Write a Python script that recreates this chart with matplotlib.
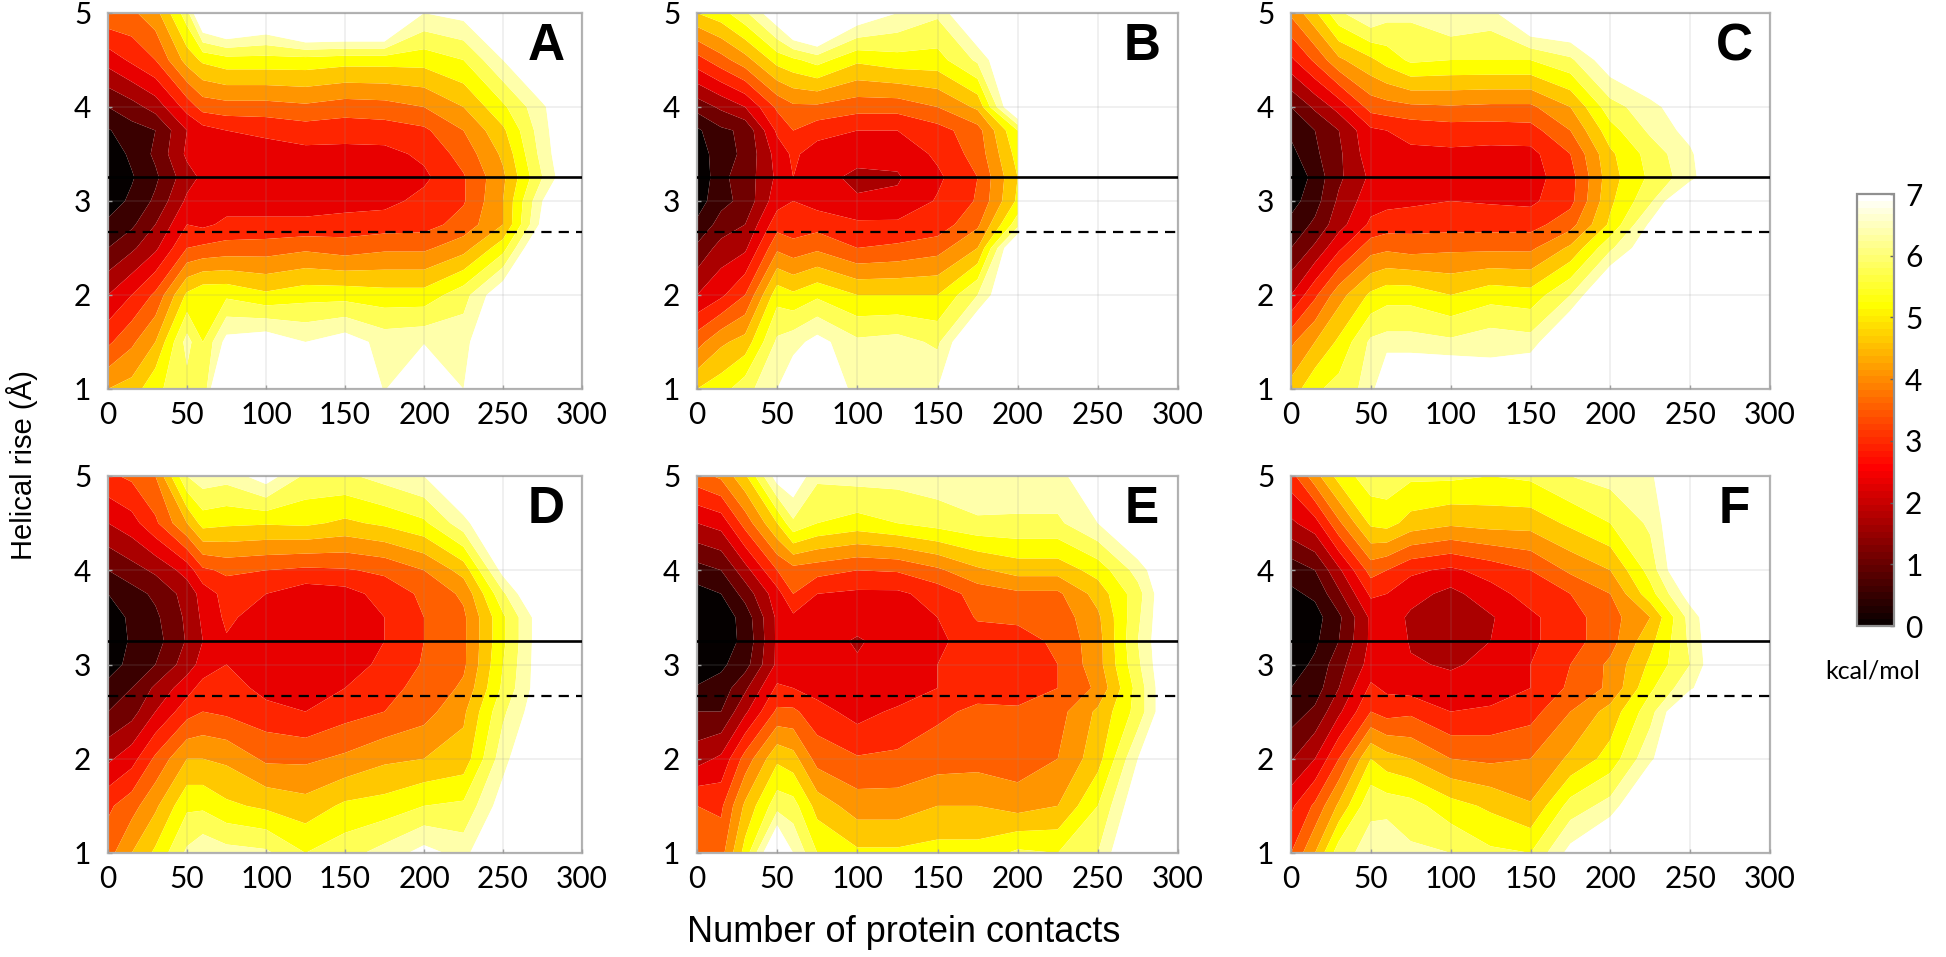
import numpy as np
import matplotlib
matplotlib.use("Agg")
import matplotlib.pyplot as plt
from matplotlib.colors import Normalize
from matplotlib.cm import ScalarMappable

W, H = 1946, 957
contacts = [0, 15, 30, 50, 60, 75, 100, 125, 150, 175, 200, 225, 250, 275, 300]
rise = [1, 1.5, 2, 2.5, 2.75, 3, 3.25, 3.5, 3.75, 4, 4.5, 5]
n = float('nan')

panel_a = [
 [4.0,4.2,4.9,5.3,5.0,8,7,7,8,5.9,8,6,7,7,7],
 [2.9,3.4,4.0,5.7,5.0,6.2,6.4,6,6.3,5.8,5.9,5.8,7,7,7],
 [2.0,2.5,3.1,4.6,4.9,4.9,4.6,4.8,4.8,4.7,4.7,5.3,6.5,7,7],
 [1.0,1.4,1.9,3.0,3.1,3.2,3.25,3.4,3.25,3.4,3.4,3.8,4.8,7,7],
 [.6,.9,1.5,2.5,2.4,2.6,2.6,2.6,2.7,2.75,2.8,3.2,4.0,6.2,7],
 [.25,.6,1.1,2.1,2.2,2.3,2.3,2.3,2.3,2.35,2.65,2.95,4.0,6,7],
 [0,.45,.9,1.8,2.1,2.2,2.2,2.2,2.2,2.2,2.4,2.95,3.9,5.5,7],
 [.2,.6,1.1,2.1,2.2,2.25,2.3,2.35,2.35,2.35,2.6,3.2,4.1,5.7,7],
 [.45,.8,1.0,2.0,2.3,2.5,2.6,2.75,2.7,2.75,2.9,3.5,4.4,5.8,7],
 [1,1.3,1.7,2.7,3.2,3.3,3.3,3.4,3.25,3.3,3.5,4,4.9,5.9,7],
 [2.2,2.6,3,4.2,4.6,4.8,4.8,4.8,4.7,4.7,4.7,5,6,7,7],
 [3.4,3.4,3.8,5.3,7,7.5,7,8,8,8,6,6.2,7,7,7],
]
panel_b = [
 [4.5,4.8,5.3,6.0,6.5,7,5.7,5.8,6,7,7,n,n,n,n],
 [3.3,3.9,4.2,5.6,5.8,6.2,5.6,5.7,5.4,7,7,n,n,n,n],
 [2.0,2.4,3,4.8,4.6,4.9,4.5,4.5,4.5,5.5,7,n,n,n,n],
 [1.1,1.7,1.9,3.4,3.2,3.4,3.0,3.1,3.3,4,7,n,n,n,n],
 [.6,1.2,1.5,2.8,2.7,2.8,2.6,2.6,2.7,3.4,5.3,n,n,n,n],
 [.25,.85,1.15,2.3,2.5,2.3,2.05,2.1,2.55,3.05,4.6,n,n,n,n],
 [0,.9,1.2,2.1,2.5,2.15,1.9,1.95,2.4,3.0,4.5,n,n,n,n],
 [.2,.8,1.1,2.2,2.6,2.25,2.15,2.15,2.6,3.2,4.7,n,n,n,n],
 [.4,.9,1.1,2.6,3.0,2.7,2.5,2.5,2.8,3.3,5.0,n,n,n,n],
 [1.2,1.6,2.0,3.1,3.4,3.4,3.2,3.2,3.5,4.1,7,n,n,n,n],
 [2.8,3.3,3.8,4.7,4.9,5.2,4.6,4.8,4.8,5.6,7,n,n,n,n],
 [4.5,4.8,5.4,6.5,7.5,8,6.5,6,5.6,7,7,n,n,n,n],
]
panel_c = [
 [4.2,4.9,5.2,5.7,7,7,7,6.4,7,7,7,7,7,7,7],
 [3.4,4,4.6,5.6,5.7,5.7,5.6,5.8,5.7,7,7,7,7,7,7],
 [2,2.9,3.8,4.6,4.8,4.8,4.5,4.8,4.7,5.5,7,7,7,7,7],
 [1,1.6,2.4,3.3,3.4,3.3,3.4,3.4,3.4,4.1,5.4,6.5,7,7,7],
 [.65,1.1,1.8,2.6,2.75,2.8,2.8,2.8,2.8,3.3,4.6,6.1,7,7,7],
 [.3,.8,1.6,2.3,2.35,2.4,2.5,2.45,2.4,2.85,4.4,5.4,7,7,7],
 [0,.7,1.4,2.1,2.2,2.2,2.2,2.2,2.3,2.8,4.3,5.1,5.8,7,7],
 [.35,.9,1.4,2.3,2.35,2.4,2.4,2.35,2.35,3.0,4.4,5.2,5.9,7,7],
 [.6,1,1.5,2.4,2.5,2.65,2.75,2.75,2.8,3.5,4.8,5.6,6.2,7,7],
 [1,1.6,2.2,3.2,3.3,3.4,3.45,3.4,3.4,4,5.3,5.8,6.5,7,7],
 [2.4,3.1,3.9,4.4,4.7,5.1,5,5,5,5.4,6.4,7,7,7,7],
 [3.6,4.4,5.4,6,5.7,5.6,6,5.8,7,7,7,7,7,7,7],
]
panel_d = [
 [3.3,4.0,4.6,5.6,5.9,5.7,5.6,5.0,5.3,5.7,6.2,5.8,7,7,7],
 [2.9,3.3,3.9,4.9,4.9,4.6,4.4,4.2,4.6,4.7,5.0,5.1,6.3,7,7],
 [1.9,2.3,3.1,4.0,4.0,3.9,3.4,3.4,3.6,3.9,4.0,4.2,5.8,7,7],
 [1,1.3,2.0,2.8,3.0,2.9,2.7,2.5,2.8,3.0,3.3,3.9,5.4,6.5,7],
 [.7,1.0,1.6,2.3,2.7,2.8,2.3,2.3,2.5,2.9,3.1,3.6,5.1,6.4,7],
 [.2,.7,1.0,1.75,2.2,2.5,2.25,2.15,2.3,2.6,3.05,3.4,5,6.4,7],
 [0,.6,.8,1.55,2.0,2.45,2.2,2.1,2.2,2.5,3.0,3.4,4.9,6.4,7],
 [.1,.65,.9,1.6,2.1,2.6,2.25,2.15,2.2,2.5,3,3.4,4.9,6.4,7],
 [.5,.8,1.1,1.7,2.2,2.7,2.5,2.2,2.3,2.7,3.1,3.6,5.4,7,7],
 [1,1.3,1.6,2.2,2.9,3.1,3.0,2.9,2.95,3.1,3.5,4.2,6.2,7,7],
 [2,2.3,2.9,4.0,4.7,4.6,4.55,4.6,4.4,4.6,4.9,5.8,7,7,7],
 [2.9,3.1,3.5,5.5,5.8,5.7,6.3,5.4,5.4,5.7,6,7,7,7,7],
]
panel_e = [
 [3.4,3.3,4.7,7,6,5,4.6,4.6,4.7,4.7,5.1,5.0,5.5,7,7],
 [3.0,2.9,4.1,5.3,5.2,4.3,3.75,3.75,4.0,4.0,3.8,4.0,5,6.5,7],
 [1.8,2.1,3.2,4.4,4.2,3.3,3.05,3.1,3.25,3.3,3.2,3.5,4.3,6,7],
 [1,1,1.9,3.1,3.1,2.7,2.3,2.6,2.9,3.1,3.05,3.3,4.1,5.2,7],
 [.55,.7,1.4,2.6,2.5,2.3,2.1,2.15,2.5,2.8,2.85,3,3.6,5.2,7],
 [.15,.4,.8,2.1,2.2,2.2,2.05,2.2,2.5,2.75,2.8,3,3.8,5.4,7],
 [0,.3,.6,2.1,2.2,2.2,1.95,2.2,2.4,2.75,2.8,3.1,3.8,5.5,7],
 [0,.2,.7,2.1,2.4,2.2,2.2,2.2,2.5,3.05,3.1,3.2,3.9,5.4,7],
 [.3,.5,1.2,2.3,3,2.5,2.4,2.4,2.7,3.2,3.4,3.4,4.2,5.3,7],
 [.8,1,1.8,3,3.3,3.2,3.0,3.05,3.4,3.9,4.2,4.2,4.7,5.7,7],
 [2,2.2,3.2,4.5,5.4,5,4.8,5,5.2,5.4,5.4,5.4,6,7,7],
 [3.3,3.6,4.4,6.3,6.5,5.6,5.7,5.7,5.8,6,5.9,5.9,6.3,7,7],
]
panel_f = [
 [3,4,5.3,5.7,6,5.6,5.5,5.1,5,6.2,7,7,7,7,7],
 [2.4,3.1,4.1,5.4,5.3,5.2,4.7,4.4,4.05,5.2,5.7,7,7,7,7],
 [1.45,2,3,4.5,4.2,4,3.5,3.4,3.5,4.1,4.7,5.9,7,7,7],
 [.75,1.1,1.9,3,2.8,2.9,2.5,2.6,2.8,3.5,4.2,5.3,7,7,7],
 [.5,.75,1.5,2.6,2.4,2.3,2.15,2.2,2.5,3.1,3.6,4.9,5.9,7,7],
 [.25,.6,1.3,2.2,2.4,2.05,1.95,2.1,2.5,3,3.6,4.6,5.5,7,7],
 [0,.4,1,2.1,2.4,1.95,1.6,2,2.4,2.8,3.3,4.35,5.6,7,7],
 [0,.3,.9,2.1,2.3,1.9,1.6,1.95,2.4,2.8,3.3,4.0,5.7,7,7],
 [.4,.6,1.4,2.6,2.5,2.2,1.85,2.3,2.7,3,3.5,4.8,6.3,7,7],
 [.7,1,1.9,3.2,3,2.6,2.4,2.7,3,3.6,4,5.2,7,7,7],
 [1.9,2.3,3.4,4.6,4.7,4.3,4.1,4.2,4.2,4.6,5,5.6,7,7,7],
 [2.8,3.8,4.7,5.3,5.3,5.1,5.1,5,5.1,5.5,5.7,5.9,7,7,7],
]
labels = ["A", "B", "C", "D", "E", "F"]
panels = [panel_a, panel_b, panel_c, panel_d, panel_e, panel_f]
solid_rise = 3.25
dashed_rise = 2.67
x_ticks = [0, 50, 100, 150, 200, 250, 300]
y_ticks = [1, 2, 3, 4, 5]
cbar_ticks = [0, 1, 2, 3, 4, 5, 6, 7]
levels = [-1, .5, 1, 1.5, 2, 2.5, 3, 3.5, 4, 4.5, 5, 5.5, 6, 9]
band_colors = ["#050000", "#3a0000", "#700000", "#aa0000", "#e80000", "#ff2500",
               "#ff6000", "#ff9500", "#ffc800", "#ffff00", "#ffff55", "#ffffaa", "#ffffff"]

boxes = [(108, 582, 13, 389), (697, 1178, 13, 389), (1291, 1770, 13, 389),
         (108, 582, 476, 853), (697, 1178, 476, 853), (1291, 1770, 476, 853)]

plt.rcParams['font.family'] = ['Lato', 'DejaVu Sans']
fig = plt.figure(figsize=(W / 100, H / 100), dpi=100, facecolor='white')

def add_ax(x0, x1, y0, y1):
    return fig.add_axes([x0 / W, 1 - y1 / H, (x1 - x0) / W, (y1 - y0) / H])

for lab, data, box in zip(labels, panels, boxes):
    ax = add_ax(*box)
    z = np.array(data, dtype=float)
    ax.contourf(contacts, rise, z, levels=levels, colors=band_colors, antialiased=True)
    ax.set_xlim(0, 300)
    ax.set_ylim(1, 5)
    ax.set_xticks(x_ticks)
    ax.set_yticks(y_ticks)
    ax.grid(True, color='#909090', alpha=0.16, lw=1.2)
    ax.set_axisbelow(False)
    ax.tick_params(direction='in', length=3, width=1, color='#a0a0a0', labelsize=21.5,
                   labelcolor='black', pad=12)
    ax.tick_params(axis='x', pad=9)
    for s in ax.spines.values():
        s.set_color('#b4b4b4')
        s.set_linewidth(1.6)
    ax.axhline(solid_rise, color='black', lw=1.9, zorder=5)
    ax.axhline(dashed_rise, color='black', lw=1.6, dashes=(4.6, 3.2), zorder=5)
    ax.text(0.925, 0.975, lab, transform=ax.transAxes, ha='center', va='top',
            fontsize=37, fontweight='bold', family='Liberation Sans', color='black', zorder=6)

cax = add_ax(1857, 1894, 194, 626)
sm = ScalarMappable(norm=Normalize(0, 7), cmap=plt.get_cmap('hot', 64))
cb = fig.colorbar(sm, cax=cax, orientation='vertical')
cb.set_ticks(cbar_ticks)
cb.ax.tick_params(direction='in', length=3, width=1, color='#606060', labelsize=21.5, pad=8)
cb.outline.set_edgecolor('#909090')
cb.outline.set_linewidth(1.6)
fig.text(1873 / W, 1 - 671 / H, "kcal/mol", ha='center', va='center', fontsize=18)

fig.text(22 / W, 1 - 465 / H, "Helical rise (Å)", rotation=90, ha='center', va='center',
         fontsize=21, family='Liberation Sans')
fig.text(904 / W, 1 - 933 / H, "Number of protein contacts", ha='center', va='center',
         fontsize=26, family='Liberation Sans')

fig.savefig("out.png", dpi=100)
